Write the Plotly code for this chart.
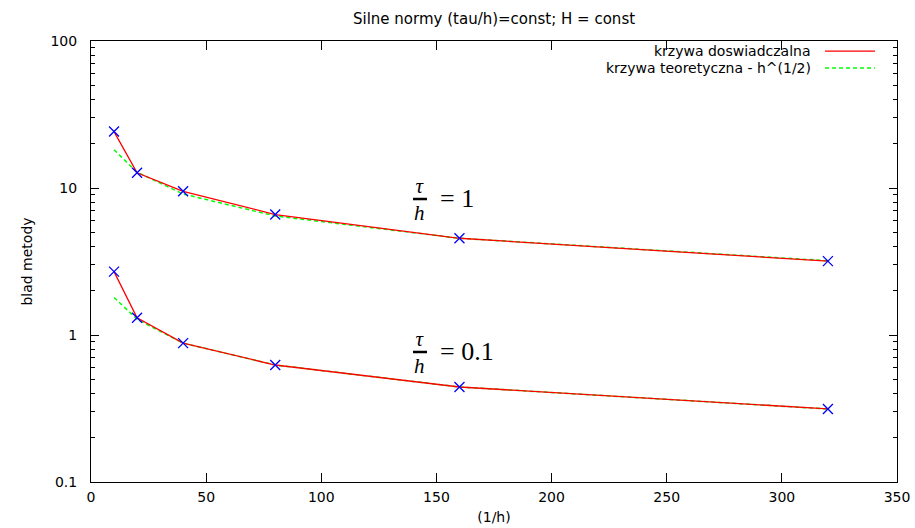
import plotly.graph_objects as go

# Data
inv_h = [10, 20, 40, 80, 160, 320]
exp_tau1 = [24.2, 12.7, 9.5, 6.6, 4.55, 3.18]
theo_tau1 = [18.2, 12.8, 9.1, 6.45, 4.55, 3.2]
exp_tau01 = [2.7, 1.31, 0.88, 0.625, 0.443, 0.314]
theo_tau01 = [1.8, 1.28, 0.88, 0.625, 0.443, 0.314]

title_text = "Silne normy (tau/h)=const; H = const"
legend_exp = "krzywa doswiadczalna"
legend_theo = "krzywa teoretyczna - h^(1/2)"

RED = "#ff0000"
GREEN = "#00ff00"
BLUE = "#0000ff"
FONT = "DejaVu Sans"

fig = go.Figure()
for theo in (theo_tau1, theo_tau01):
    fig.add_trace(go.Scatter(x=inv_h, y=theo, mode="lines",
                             line=dict(color=GREEN, width=1.5, dash="4px,3px"),
                             showlegend=False, hoverinfo="skip"))
for exp in (exp_tau1, exp_tau01):
    fig.add_trace(go.Scatter(x=inv_h, y=exp, mode="lines",
                             line=dict(color=RED, width=1.3),
                             showlegend=False))
    fig.add_trace(go.Scatter(x=inv_h, y=exp, mode="markers",
                             marker=dict(symbol="x-thin", size=10, color=BLUE,
                                         line=dict(color=BLUE, width=1.3)),
                             showlegend=False))

axis_common = dict(showline=True, linecolor="black", linewidth=1, mirror="allticks",
                   ticks="inside", tickcolor="black", showgrid=False, zeroline=False,
                   automargin=False,
                   tickfont=dict(family=FONT, size=14, color="black"))

fig.update_xaxes(range=[0, 350], dtick=50, ticklen=9, ticklabelstandoff=2,
                 title=dict(text="(1/h)", font=dict(family=FONT, size=14, color="black"),
                            standoff=8),
                 **axis_common)
fig.update_yaxes(type="log", range=[-1, 2], dtick=1, ticklen=8, ticklabelstandoff=10,
                 minor=dict(ticks="inside", ticklen=4, dtick="D1", tickcolor="black",
                            showgrid=False),
                 title=dict(text="blad metody", font=dict(family=FONT, size=14, color="black"),
                            standoff=14),
                 **axis_common)

annotations = [
    dict(text=title_text, x=0.5, y=1.0, xref="paper", yref="paper", yanchor="bottom",
         xanchor="center", yshift=11, showarrow=False,
         font=dict(family=FONT, size=15, color="black")),
    dict(text=legend_exp, x=0.8958, y=0.977, xref="paper", yref="paper",
         xanchor="right", yanchor="middle", showarrow=False,
         font=dict(family=FONT, size=14, color="black")),
    dict(text=legend_theo, x=0.8958, y=0.9388, xref="paper", yref="paper",
         xanchor="right", yanchor="middle", showarrow=False,
         font=dict(family=FONT, size=14, color="black")),
]
shapes = [
    dict(type="line", xref="paper", yref="paper", x0=0.9107, x1=0.9727, y0=0.977, y1=0.977,
         line=dict(color=RED, width=1.3)),
    dict(type="line", xref="paper", yref="paper", x0=0.9107, x1=0.9727, y0=0.9388, y1=0.9388,
         line=dict(color=GREEN, width=1.5, dash="4px,3px")),
]

frac_font = dict(family="Liberation Serif", size=21, color="black")
val_font = dict(family="Liberation Serif", size=26, color="black")
# fraction labels  tau/h = value
for (yfrac, ybar, yval, val) in [(0.6395, 0.6417, 0.6429, "=&nbsp;1"),
                                 (0.2930, 0.2948, 0.2970, "=&nbsp;0.1")]:
    annotations.append(dict(text="<i>τ</i><br><i>h</i>", x=0.408, y=yfrac,
                            xref="paper", yref="paper", xanchor="center", yanchor="middle",
                            showarrow=False, font=frac_font))
    annotations.append(dict(text=val, x=0.431, y=yval, xref="paper", yref="paper",
                            xanchor="left", yanchor="middle", showarrow=False, font=val_font))
    shapes.append(dict(type="line", xref="paper", yref="paper", x0=0.3995, x1=0.4169,
                       y0=ybar, y1=ybar, line=dict(color="black", width=2.5)))

fig.update_layout(width=915, height=528, margin=dict(l=91, r=18, t=41, b=46),
                  paper_bgcolor="white", plot_bgcolor="white",
                  annotations=annotations, shapes=shapes, showlegend=False)

fig.write_html("out.html")
